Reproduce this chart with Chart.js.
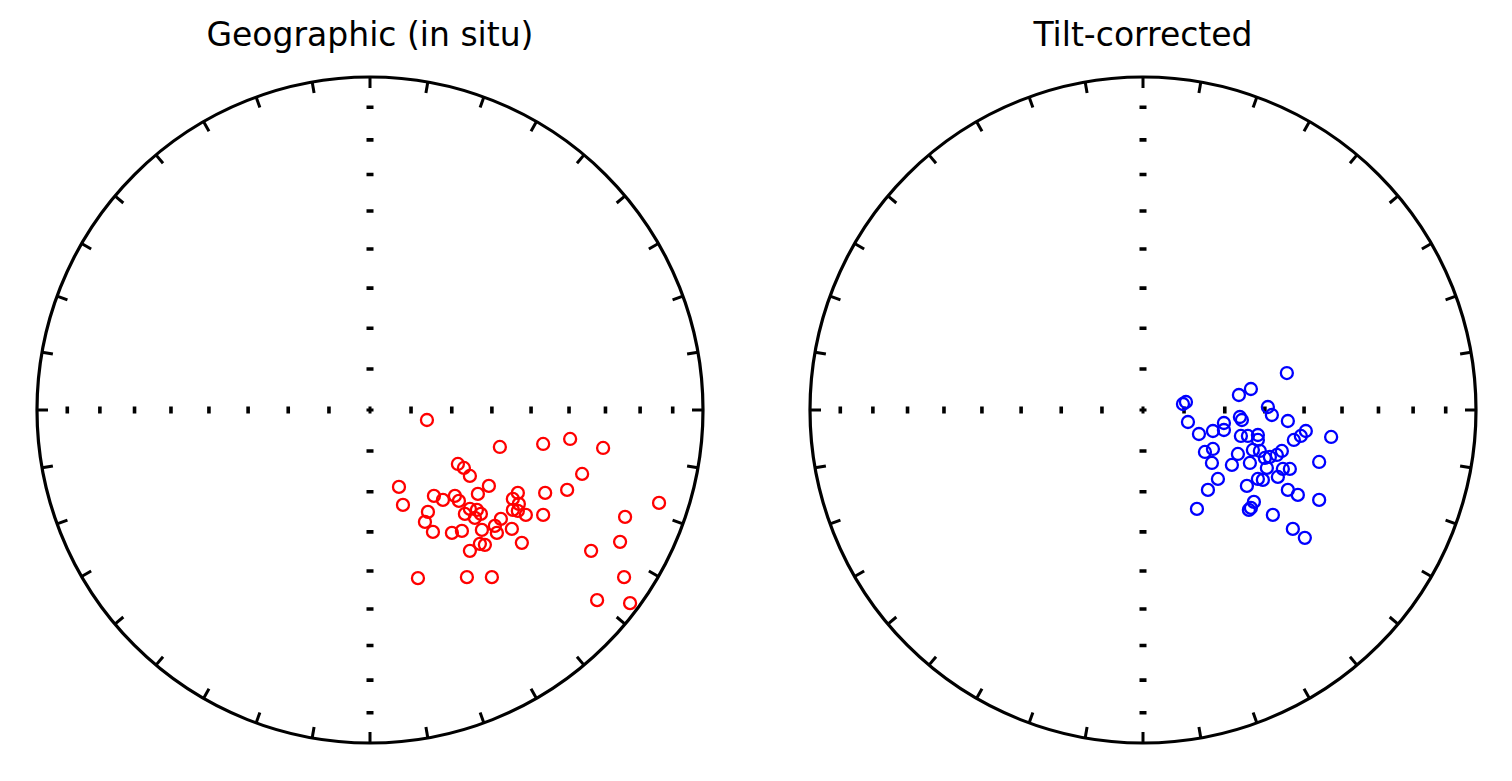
<!DOCTYPE html>
<html>
<head>
<meta charset="utf-8">
<script src="https://cdn.jsdelivr.net/npm/chart.js@4.4.1/dist/chart.umd.min.js"></script>
<style>
  body { margin: 0; background: #fff; width: 1512px; height: 781px; position: relative; overflow: hidden; }
  .title { position: absolute; top: 16px; width: 600px; text-align: center; line-height: 38px;
           font-family: "DejaVu Sans", sans-serif; font-size: 33px; color: #000; }
  canvas { position: absolute; }
</style>
</head>
<body>
<div class="title" style="left:70px">Geographic (in situ)</div>
<div class="title" style="left:843px">Tilt-corrected</div>
<canvas id="geoChart" width="690" height="690" style="left:25px; top:65px"></canvas>
<canvas id="tiltChart" width="690" height="690" style="left:798px; top:65px"></canvas>
<script>
// equal-area projection coordinates (unit circle), x = east, y = north
const geoX = [0.171, 0.390, 0.520, 0.601, 0.700, 0.264, 0.282, 0.300, 0.637, 0.357,
  0.087, 0.526, 0.592, 0.444, 0.324, 0.192, 0.219, 0.255, 0.267, 0.099,
  0.429, 0.447, 0.429, 0.444, 0.300, 0.321, 0.333, 0.285, 0.315, 0.174,
  0.393, 0.468, 0.520, 0.868, 0.766, 0.165, 0.189, 0.246, 0.276, 0.336,
  0.375, 0.381, 0.426, 0.330, 0.345, 0.300, 0.456, 0.664, 0.751, 0.144,
  0.291, 0.366, 0.763, 0.682, 0.781];
const geoY = [-0.030, -0.111, -0.102, -0.087, -0.114, -0.162, -0.174, -0.198, -0.192, -0.228,
  -0.231, -0.249, -0.240, -0.249, -0.252, -0.258, -0.270, -0.258, -0.273, -0.285,
  -0.267, -0.282, -0.300, -0.303, -0.297, -0.300, -0.312, -0.312, -0.324, -0.306,
  -0.327, -0.315, -0.315, -0.279, -0.321, -0.336, -0.366, -0.369, -0.363, -0.360,
  -0.348, -0.369, -0.357, -0.402, -0.405, -0.423, -0.399, -0.423, -0.396, -0.505,
  -0.502, -0.502, -0.502, -0.571, -0.580];

const tiltX = [0.432, 0.324, 0.288, 0.120, 0.129, 0.375, 0.291, 0.297, 0.387, 0.435,
  0.135, 0.243, 0.210, 0.168, 0.243, 0.315, 0.345, 0.345, 0.489, 0.474,
  0.453, 0.565, 0.294, 0.186, 0.210, 0.285, 0.330, 0.351, 0.366, 0.381,
  0.402, 0.417, 0.207, 0.267, 0.321, 0.372, 0.420, 0.441, 0.529, 0.405,
  0.225, 0.345, 0.360, 0.312, 0.435, 0.195, 0.465, 0.333, 0.529, 0.162,
  0.318, 0.324, 0.390, 0.450, 0.486];
const tiltY = [0.111, 0.063, 0.045, 0.018, 0.024, 0.009, -0.021, -0.030, -0.015, -0.033,
  -0.036, -0.039, -0.063, -0.072, -0.060, -0.078, -0.075, -0.090, -0.063, -0.078,
  -0.090, -0.081, -0.078, -0.126, -0.117, -0.132, -0.120, -0.123, -0.144, -0.141,
  -0.135, -0.123, -0.159, -0.165, -0.159, -0.174, -0.177, -0.177, -0.156, -0.201,
  -0.207, -0.207, -0.210, -0.228, -0.240, -0.240, -0.255, -0.276, -0.270, -0.297,
  -0.300, -0.294, -0.315, -0.357, -0.384];

const decTicks = [0, 10, 20, 30, 40, 50, 60, 70, 80, 90, 100, 110, 120, 130, 140, 150, 160, 170,
  180, 190, 200, 210, 220, 230, 240, 250, 260, 270, 280, 290, 300, 310, 320, 330, 340, 350];
const incTicks = [10, 20, 30, 40, 50, 60, 70, 80];

// draws the primitive circle, declination ticks and inclination marks on the axes
const stereonet = {
  id: 'stereonet',
  beforeDatasetsDraw(chart) {
    const ctx = chart.ctx;
    const xs = chart.scales.x, ys = chart.scales.y;
    const cx = xs.getPixelForValue(0), cy = ys.getPixelForValue(0);
    const R = xs.getPixelForValue(1) - cx;
    ctx.save();
    ctx.strokeStyle = '#000';
    ctx.lineWidth = 3.2;
    ctx.beginPath();
    ctx.arc(cx, cy, R, 0, Math.PI * 2);
    ctx.stroke();
    ctx.lineCap = 'butt';
    ctx.lineWidth = 3;
    decTicks.forEach(d => {
      const a = d * Math.PI / 180;
      const sx = Math.sin(a), sy = -Math.cos(a);
      ctx.beginPath();
      ctx.moveTo(cx + sx * R, cy + sy * R);
      ctx.lineTo(cx + sx * (R - 11), cy + sy * (R - 11));
      ctx.stroke();
    });
    ctx.lineWidth = 3.6;
    incTicks.forEach(inc => {
      const r = Math.SQRT2 * Math.sin((90 - inc) / 2 * Math.PI / 180) * R;
      ctx.beginPath();
      ctx.moveTo(cx + r, cy - 3.5); ctx.lineTo(cx + r, cy + 3.5);
      ctx.moveTo(cx - r, cy - 3.5); ctx.lineTo(cx - r, cy + 3.5);
      ctx.moveTo(cx - 3.5, cy + r); ctx.lineTo(cx + 3.5, cy + r);
      ctx.moveTo(cx - 3.5, cy - r); ctx.lineTo(cx + 3.5, cy - r);
      ctx.stroke();
    });
    ctx.lineWidth = 3;
    ctx.beginPath();
    ctx.moveTo(cx - 3.5, cy); ctx.lineTo(cx + 3.5, cy);
    ctx.moveTo(cx, cy - 3.5); ctx.lineTo(cx, cy + 3.5);
    ctx.stroke();
    ctx.restore();
  }
};

function makeNet(id, xs, ys, color) {
  const lim = 345 / 333;
  new Chart(document.getElementById(id), {
    type: 'scatter',
    data: {
      datasets: [{
        data: xs.map((x, i) => ({ x: x, y: ys[i] })),
        pointStyle: 'circle',
        pointRadius: 6,
        pointHoverRadius: 6,
        borderWidth: 2.3,
        borderColor: color,
        backgroundColor: 'rgba(0,0,0,0)'
      }]
    },
    options: {
      responsive: false,
      animation: false,
      layout: { padding: 0, autoPadding: false },
      plugins: { legend: { display: false }, tooltip: { enabled: false } },
      scales: {
        x: { type: 'linear', min: -lim, max: lim, display: false },
        y: { type: 'linear', min: -lim, max: lim, display: false }
      }
    },
    plugins: [stereonet]
  });
}

makeNet('geoChart', geoX, geoY, '#ff0000');
makeNet('tiltChart', tiltX, tiltY, '#0000ff');
</script>
</body>
</html>
